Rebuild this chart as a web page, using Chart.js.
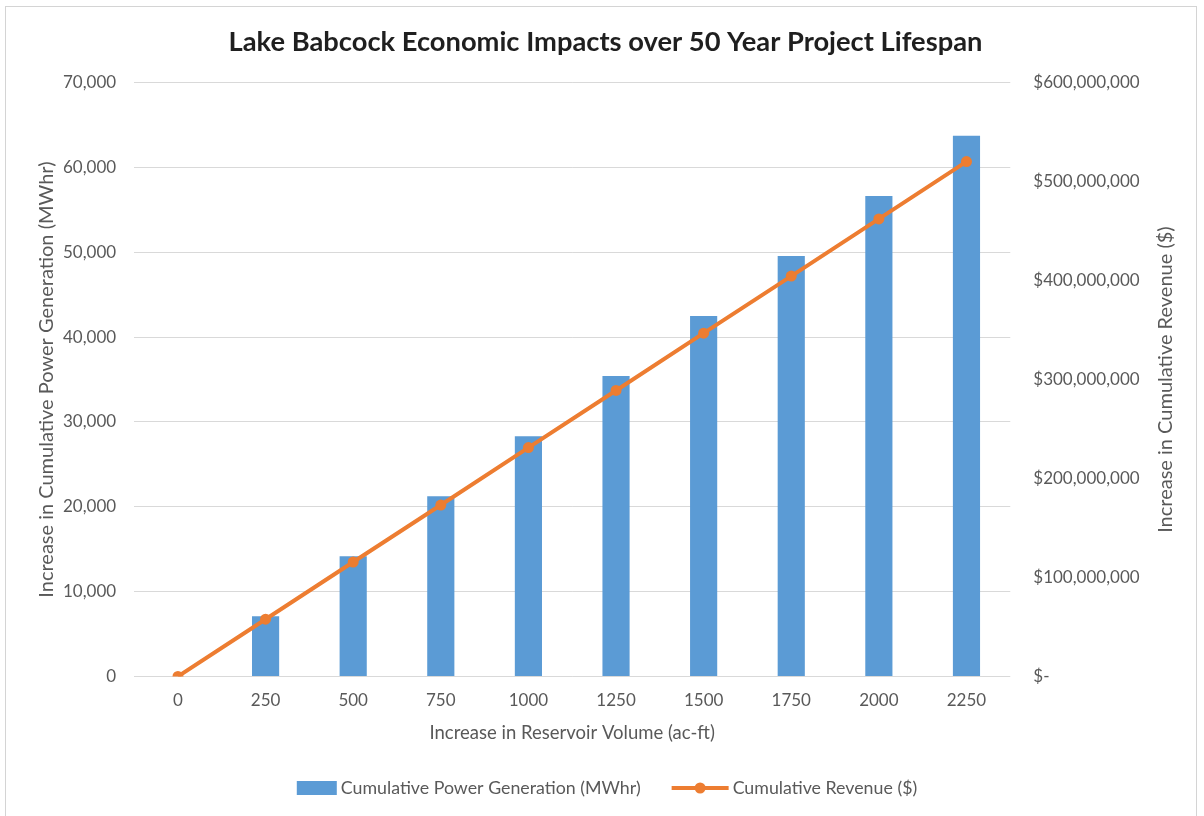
<!DOCTYPE html>
<html>
<head>
<meta charset="utf-8">
<script src="https://cdn.jsdelivr.net/npm/chart.js@4/dist/chart.umd.min.js"></script>
<style>
  html, body { margin: 0; padding: 0; background: #fff; }
  #frame { position: absolute; left: 5px; top: 6px; width: 1190px; height: 830px; border: 1px solid #d4d4d4; border-bottom: none; }
  #wrap { position: absolute; left: 0; top: 0; width: 1204px; height: 816px; }
</style>
</head>
<body>
<div id="frame"></div>
<div id="wrap"><canvas id="chart" width="1204" height="816"></canvas></div>
<script>
const volumes = ['0', '250', '500', '750', '1000', '1250', '1500', '1750', '2000', '2250']
const powerMWhr = [0, 7080, 14160, 21250, 28330, 35410, 42490, 49570, 56650, 63740]
const revenueDollars = [0, 57800000, 115600000, 173200000, 231300000, 289000000, 346900000, 404600000, 462400000, 520300000]

const BLUE = '#5b9bd5'
const ORANGE = '#ed7d31'
const TEXT = '#595959'
const FONT = 'Lato, "Open Sans", sans-serif'

Chart.defaults.font.family = FONT
Chart.defaults.color = TEXT

// right axis title reads bottom-to-top like the left one
const rightTitle = {
  id: 'rightTitle',
  afterDraw(chart) {
    const s = chart.scales.y1
    const ctx = chart.ctx
    ctx.save()
    ctx.translate(s.right - 10, (chart.chartArea.top + chart.chartArea.bottom) / 2)
    ctx.rotate(-Math.PI / 2)
    ctx.font = '20px ' + FONT
    ctx.fillStyle = TEXT
    ctx.textAlign = 'center'
    ctx.textBaseline = 'middle'
    ctx.fillText('Increase in Cumulative Revenue ($)', 0, 0)
    ctx.restore()
  }
}

// excel style legend at the bottom
const bottomLegend = {
  id: 'bottomLegend',
  afterDraw(chart) {
    const ctx = chart.ctx
    const items = [
      { text: 'Cumulative Power Generation (MWhr)', kind: 'bar', w: 40 },
      { text: 'Cumulative Revenue ($)', kind: 'line', w: 57 },
    ]
    ctx.save()
    ctx.font = '17.8px ' + FONT
    const gapIcon = 4, gapItem = 31
    let total = 0
    items.forEach((it, i) => {
      it.tw = ctx.measureText(it.text).width
      total += it.w + gapIcon + it.tw + (i ? gapItem : 0)
    })
    let x = chart.width / 2 + 5 - total / 2
    const y = chart.height - 28
    items.forEach(it => {
      if (it.kind === 'bar') {
        ctx.fillStyle = BLUE
        ctx.fillRect(x, y - 7, it.w, 14)
      } else {
        ctx.strokeStyle = ORANGE
        ctx.lineWidth = 4
        ctx.beginPath(); ctx.moveTo(x, y); ctx.lineTo(x + it.w, y); ctx.stroke()
        ctx.fillStyle = ORANGE
        ctx.beginPath(); ctx.arc(x + it.w / 2, y, 5.5, 0, Math.PI * 2); ctx.fill()
      }
      x += it.w + gapIcon
      ctx.fillStyle = TEXT
      ctx.textBaseline = 'middle'
      ctx.fillText(it.text, x, y)
      x += it.tw + gapItem
    })
    ctx.restore()
  }
}

new Chart(document.getElementById('chart'), {
  data: {
    labels: volumes,
    datasets: [{
      type: 'line',
      label: 'Cumulative Revenue ($)',
      data: revenueDollars,
      yAxisID: 'y1',
      borderColor: ORANGE,
      backgroundColor: ORANGE,
      borderWidth: 4,
      pointRadius: 5.5,
      pointHoverRadius: 5.5,
      pointBackgroundColor: ORANGE,
      pointBorderWidth: 0,
      order: 0,
    }, {
      type: 'bar',
      label: 'Cumulative Power Generation (MWhr)',
      data: powerMWhr,
      yAxisID: 'y',
      backgroundColor: BLUE,
      categoryPercentage: 1,
      barPercentage: 0.31,
      order: 1,
    }],
  },
  options: {
    responsive: false,
    animation: false,
    layout: { padding: { left: 35, right: 28, top: 0, bottom: 72 } },
    plugins: {
      title: {
        display: true,
        text: 'Lake Babcock Economic Impacts over 50 Year Project Lifespan',
        color: '#1f1f1f',
        font: { size: 27.3, weight: 'bold' },
        padding: { top: 26, bottom: 24 },
      },
      legend: { display: false },
      tooltip: { enabled: false },
    },
    scales: {
      x: {
        grid: { display: false, drawTicks: false },
        border: { display: false },
        ticks: { padding: 14, font: { size: 17 }, color: TEXT },
        title: {
          display: true,
          text: 'Increase in Reservoir Volume (ac-ft)',
          font: { size: 18.5 },
          color: TEXT,
          padding: { top: -3, bottom: 0 },
        },
      },
      y: {
        position: 'left',
        min: 0,
        max: 70000,
        grid: { color: '#d9d9d9', lineWidth: 1, drawTicks: false },
        border: { display: false },
        ticks: {
          stepSize: 10000,
          padding: 18,
          font: { size: 17 },
          color: TEXT,
          callback: v => v.toLocaleString('en-US'),
        },
        title: {
          display: true,
          text: 'Increase in Cumulative Power Generation (MWhr)',
          font: { size: 20 },
          color: TEXT,
          padding: { top: 0, bottom: -14 },
        },
      },
      y1: {
        position: 'right',
        min: 0,
        max: 600000000,
        grid: { display: false, drawTicks: false },
        border: { display: false },
        ticks: {
          stepSize: 100000000,
          padding: 23,
          font: { size: 17 },
          color: TEXT,
          callback: v => v === 0 ? '$-' : '$' + v.toLocaleString('en-US'),
        },
        title: {
          display: true,
          text: 'Increase in Cumulative Revenue ($)',
          font: { size: 17 },
          color: 'rgba(0,0,0,0)',
          padding: { top: 0, bottom: -7 },
        },
      },
    },
  },
  plugins: [rightTitle, bottomLegend],
})
</script>
</body>
</html>
